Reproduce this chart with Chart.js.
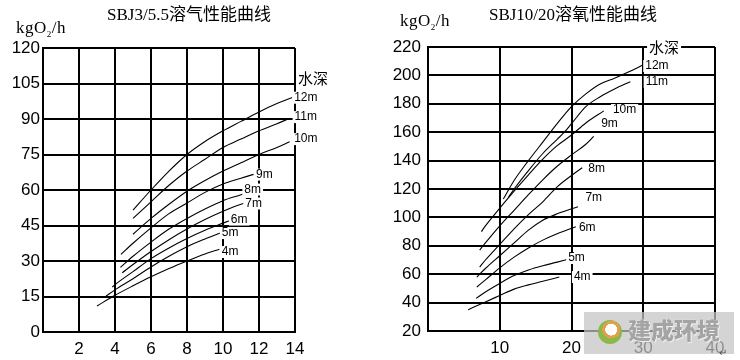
<!DOCTYPE html>
<html><head><meta charset="utf-8">
<script src="https://cdn.jsdelivr.net/npm/chart.js@4/dist/chart.umd.min.js"></script>
<style>
body{margin:0;width:740px;height:360px;background:#fff;position:relative;overflow:hidden;}
canvas{position:absolute;top:0}
.t{position:absolute;white-space:nowrap;color:#000;line-height:1}
.title{font-family:"Liberation Serif","Noto Sans CJK SC";font-size:17px;transform:translateX(-50%)}
.unit{font-family:"Liberation Serif";font-size:17px;letter-spacing:0.5px}
</style></head><body>
<canvas id="c1" width="370" height="360" style="left:0"></canvas>
<canvas id="c2" width="370" height="360" style="left:370px"></canvas>
<div class="t title" style="left:189px;top:6px">SBJ3/5.5溶气性能曲线</div>
<div class="t title" style="left:573px;top:6px">SBJ10/20溶氧性能曲线</div>
<div class="t unit" style="left:16px;top:19px">kgO<sub style="font-size:9px">2</sub>/h</div>
<div class="t unit" style="left:400px;top:12px">kgO<sub style="font-size:9px">2</sub>/h</div>
<div style="position:absolute;left:584px;top:312px;width:150px;height:42px;background:rgba(195,195,195,0.72)">
  <div style="position:absolute;left:14px;top:8px;width:24px;height:24px;border-radius:50%;background:radial-gradient(circle at 55% 40%,#fff 0 30%,#e0a050 31% 45%,#8cb84a 46% 100%)"></div>
  <div class="t" style="left:44px;top:6px;font-family:'Noto Sans CJK SC';font-weight:900;font-size:23px;color:#a4a4a4;text-shadow:0 0 1px #fff,1px 1px 0 #eee">建成环境</div>
</div>
<div class="t" style="left:719px;top:348px;font-size:10px;color:#555">↵</div>
<script>
// ---------- Left chart: SBJ3/5.5 ----------
const leftXTicks = [0, 2, 4, 6, 8, 10, 12, 14];
const leftXLabels = ['', '2', '4', '6', '8', '10', '12', '14'];
const leftYTicks = [0, 15, 30, 45, 60, 75, 90, 105, 120];
const leftDepths = ['4m', '5m', '6m', '7m', '8m', '9m', '10m', '11m', '12m'];
const left4m  = [[3,11],[4,15.5],[5,19.5],[6,23.3],[7,26.8],[8,30],[9,33],[9.8,35]];
const left5m  = [[3.5,15.2],[4,17.8],[5,22.5],[6,27.5],[7,32],[8,36],[9,39.3],[10,42.3]];
const left6m  = [[3.85,19],[4,20],[5,25.5],[6,31],[7,35.5],[8,39.5],[9,43],[10,46],[10.7,48]];
const left7m  = [[4.4,25],[5,28.5],[6,34],[7,39],[8,43.5],[9,47.5],[10,51],[11,54],[11.6,55]];
const left8m  = [[4.3,27.3],[5,32],[6,38],[7,43.5],[8,48],[9,52],[10,55.5],[11,58],[11.5,59.3]];
const left9m  = [[4.33,32.8],[5,37.5],[6,44],[7,50],[8,54.5],[9,59],[10,62.5],[11,65],[11.7,66.6]];
const left10m = [[5,41.3],[6,48],[7,54],[8,59.5],[9,64],[10,68],[11,71.5],[12,75],[13,78],[13.7,80.4]];
const left11m = [[5,48],[6,55],[7,62],[8,68],[9,73],[10,78],[11,81.5],[12,85],[13,88],[13.7,90.3]];
const left12m = [[5,51.5],[6,60],[7,68],[8,75],[9,80.5],[10,85],[11,89],[12,93],[13,96.5],[14,99.5]];
// label anchors (data units) for depth names
const leftLabelText = ['水深','12m','11m','10m','9m','8m','7m','6m','5m','4m'];
const leftLabelPos  = [[15.0,107.3],[14.6,99],[14.6,90.8],[14.6,81.5],[12.3,66.5],[11.65,60.2],[11.7,54.3],[10.9,47.5],[10.4,41.8],[10.4,33.8]];

// ---------- Right chart: SBJ10/20 ----------
const rightXTicks = [0, 10, 20, 30, 40];
const rightXLabels = ['', '10', '20', '30', '40'];
const rightYTicks = [20, 40, 60, 80, 100, 120, 140, 160, 180, 200, 220];
const right4m  = [[5.6,35],[8,40.5],[10,45],[12,49.5],[14,52.5],[16,55],[18.3,58]];
const right5m  = [[6.7,43],[8,47.5],[10,53.5],[12,59],[14,63],[16,66],[18,68.5],[19.5,70.5]];
const right6m  = [[6.8,51],[8,56],[10,64.5],[12,72],[14,78.5],[16,84],[18,88.5],[20.6,93.4]];
const right7m  = [[6.8,58],[8,64],[10,73],[12,82],[14,91],[16,98],[18,102.5],[20.9,107.5]];
const right8m  = [[7.2,65],[8,70],[10,81],[12,92],[14,102],[16,111],[18,121.5],[20,129.5],[21.5,135]];
const right9m  = [[7.2,77],[8,82],[10,94],[12,105],[14,116],[16,126.5],[18,136],[20,144],[22,151.5],[23.1,157]];
const right10m = [[7.45,90],[8,94],[10,106.5],[12,118.5],[14,130],[16,141],[18,150.5],[20,158],[22,166.5],[24.5,175]];
const right11m = [[11.2,114],[12,120],[14,133],[16,145],[18,155],[19,160],[20,166],[22,178],[24,185],[26,190.5],[28.2,195.6]];
const right12m = [[10.5,113],[12,126],[14,140],[16,153],[18,166],[20,178],[22,187],[24,194],[26,198],[28,202.5],[30,207.5]];
const rightLabelText = ['水深','12m','11m','10m','9m','8m','7m','6m','5m','4m'];
const rightLabelPos  = [[32.9,220],[31.9,206.6],[31.9,195.4],[27.4,175.6],[25.3,165.8],[23.5,134],[23.1,113.7],[22.2,92.5],[20.7,71.4],[21.5,58]];

const tickFont = {family: '"Liberation Sans Narrow","Liberation Sans"', size: 17};

function makeDatasets(series) {
  return series.map(pts => ({
    data: pts.map(([x, y]) => ({x, y})),
    borderColor: '#000', borderWidth: 1.1, pointRadius: 0, fill: false,
    cubicInterpolationMode: 'monotone'
  }));
}

function labelPlugin(texts, pos) {
  return {
    id: 'depthLabels',
    afterDatasetsDraw(chart) {
      const ctx = chart.ctx, xs = chart.scales.x, ys = chart.scales.y;
      ctx.save();
      texts.forEach((t, i) => {
        const px = xs.getPixelForValue(pos[i][0]);
        const py = ys.getPixelForValue(pos[i][1]);
        const cjk = /[\u4e00-\u9fff]/.test(t);
        ctx.font = cjk ? '15px "Noto Sans CJK SC"' : '12px "Liberation Sans Narrow","Liberation Sans"';
        const w = ctx.measureText(t).width;
        ctx.fillStyle = '#fff';
        ctx.fillRect(px - w / 2 - 2, py - (cjk ? 9 : 6), w + 4, cjk ? 18 : 12);
        ctx.fillStyle = '#000';
        ctx.textAlign = 'center';
        ctx.textBaseline = 'middle';
        ctx.fillText(t, px, py);
      });
      ctx.restore();
    }
  };
}

function makeChart(id, series, xr, xt, xl, yr, yt, yW, yPad, xH, pad, texts, pos) {
  return new Chart(document.getElementById(id), {
    type: 'line',
    data: {datasets: makeDatasets(series)},
    options: {
      responsive: false, animation: false, devicePixelRatio: 1,
      layout: {padding: pad},
      plugins: {legend: {display: false}, tooltip: {enabled: false}},
      scales: {
        x: {
          type: 'linear', min: xr[0], max: xr[1],
          afterBuildTicks: s => { s.ticks = xt.map(v => ({value: v})); },
          afterFit: s => { s.height = xH; },
          ticks: {callback: (v, i) => xl[i], color: '#000', font: tickFont, padding: 7, maxRotation: 0, autoSkip: false},
          grid: {color: '#000', lineWidth: 2, drawTicks: false},
          border: {color: '#000', width: 2}
        },
        y: {
          type: 'linear', min: yr[0], max: yr[1],
          afterBuildTicks: s => { s.ticks = yt.map(v => ({value: v})); },
          afterFit: s => { s.width = yW; },
          ticks: {callback: v => String(v), color: '#000', font: tickFont, padding: yPad, autoSkip: false},
          grid: {color: '#000', lineWidth: 2, drawTicks: false},
          border: {color: '#000', width: 2}
        }
      }
    },
    plugins: [labelPlugin(texts, pos)]
  });
}

makeChart('c1', [left4m, left5m, left6m, left7m, left8m, left9m, left10m, left11m, left12m],
  [0, 14], leftXTicks, leftXLabels, [0, 120], leftYTicks, 43, 3, 28,
  {top: 48, right: 75, left: 0, bottom: 0}, leftLabelText, leftLabelPos);

makeChart('c2', [right4m, right5m, right6m, right7m, right8m, right9m, right10m, right11m, right12m],
  [0, 40], rightXTicks, rightXLabels, [20, 220], rightYTicks, 58, 7, 29,
  {top: 47, right: 25, left: 0, bottom: 0}, rightLabelText, rightLabelPos);
</script>
</body></html>
